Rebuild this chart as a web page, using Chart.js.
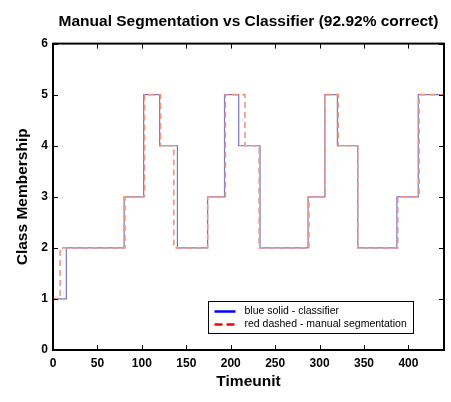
<!DOCTYPE html>
<html>
<head>
<meta charset="utf-8">
<script src="https://cdn.jsdelivr.net/npm/chart.js@4.4.1/dist/chart.umd.min.js"></script>
<style>
html,body{margin:0;padding:0;background:#fff;}
#seg_wrap{width:451px;height:402px;}
</style>
</head>
<body>
<div id="seg_wrap"><canvas id="seg_chart" width="451" height="402"></canvas></div>
<script>
// change points: the time where the class changes, and the class it changes to
var classifierTime  = [0, 15, 80, 102, 120, 140, 174, 193, 209, 233, 287, 306, 320, 343, 387, 411, 440];
var classifierClass = [1, 2, 3, 5, 4, 2, 3, 5, 4, 2, 3, 5, 4, 2, 3, 5, 5];
var manualTime  = [0, 8, 81, 103, 121, 136, 174, 194, 216, 232, 288, 306, 321, 343, 388, 412, 440];
var manualClass = [1, 2, 3, 5, 4, 2, 3, 5, 4, 2, 3, 5, 4, 2, 3, 5, 5];
var xTicks = [0, 50, 100, 150, 200, 250, 300, 350, 400];
var yTicks = [0, 1, 2, 3, 4, 5, 6];
var seriesLabels = ['blue solid - classifier', 'red dashed - manual segmentation'];

var fontFamily = '"Liberation Sans", Arial, Helvetica, sans-serif';

(function () {
    var SegChart = {
        toPoints(times, classes) {
            var pts = [];
            for (var i = 0; i < times.length; i++) {
                pts.push({x: times[i], y: classes[i]});
            }
            return pts;
        },
        // matplotlib style box with inward ticks on all four sides, plus the legend
        framePlugin: {
            id: 'seg_frame',
            afterDraw(chart) {
                var ctx = chart.ctx;
                var a = chart.chartArea;
                var xs = chart.scales.x, ys = chart.scales.y;
                var tl = 5;
                ctx.save();
                ctx.strokeStyle = '#000';
                ctx.lineWidth = 1;
                ctx.beginPath();
                xs.ticks.forEach(function (t) {
                    var px = Math.round(xs.getPixelForValue(t.value)) + 0.5;
                    ctx.moveTo(px, a.bottom); ctx.lineTo(px, a.bottom - tl);
                    ctx.moveTo(px, a.top); ctx.lineTo(px, a.top + tl);
                });
                ys.ticks.forEach(function (t) {
                    var py = Math.round(ys.getPixelForValue(t.value)) + 0.5;
                    ctx.moveTo(a.left, py); ctx.lineTo(a.left + tl, py);
                    ctx.moveTo(a.right, py); ctx.lineTo(a.right - tl, py);
                });
                ctx.stroke();
                ctx.lineWidth = 2;
                ctx.strokeRect(a.left, a.top, a.right - a.left, a.bottom - a.top);

                // legend box, lower right of the axes
                var bw = 205, bh = 32;
                var bx = Math.round(a.right - 31 - bw) + 0.5;
                var by = Math.round(a.bottom - 17 - bh) + 0.5;
                ctx.fillStyle = '#fff';
                ctx.fillRect(bx, by, bw, bh);
                ctx.lineWidth = 1;
                ctx.strokeRect(bx, by, bw, bh);
                var ds = chart.data.datasets;
                var order = [1, 0];
                ctx.font = '10.5px ' + fontFamily;
                ctx.textBaseline = 'middle';
                ctx.textAlign = 'left';
                for (var k = 0; k < order.length; k++) {
                    var d = ds[order[k]];
                    var ly = by + 10 + k * 13;
                    ctx.beginPath();
                    ctx.strokeStyle = d.legendColor;
                    ctx.lineWidth = 2.5;
                    ctx.setLineDash(d.borderDash && d.borderDash.length ? [8, 4] : []);
                    ctx.moveTo(bx + 6, ly);
                    ctx.lineTo(bx + 27, ly);
                    ctx.stroke();
                    ctx.setLineDash([]);
                    ctx.fillStyle = '#000';
                    ctx.fillText(d.label, bx + 36, ly);
                }
                ctx.restore();
            }
        },
        init() {
            var ctx = document.getElementById('seg_chart').getContext('2d');
            new Chart(ctx, {
                type: 'line',
                data: {
                    datasets: [{
                        label: seriesLabels[1],
                        data: SegChart.toPoints(manualTime, manualClass),
                        borderColor: '#f2957f',
                        legendColor: '#ff0000',
                        borderWidth: 1.6,
                        borderDash: [6, 4],
                        stepped: 'before',
                        pointRadius: 0,
                        fill: false,
                        order: 0
                    }, {
                        label: seriesLabels[0],
                        data: SegChart.toPoints(classifierTime, classifierClass),
                        borderColor: '#7676c6',
                        legendColor: '#0000ff',
                        borderWidth: 1.2,
                        stepped: 'before',
                        pointRadius: 0,
                        fill: false,
                        order: 1
                    }]
                },
                options: {
                    responsive: false,
                    animation: false,
                    events: [],
                    devicePixelRatio: 1,
                    layout: {padding: {left: 0, right: 7, top: 0, bottom: 0}},
                    plugins: {
                        legend: {display: false},
                        tooltip: {enabled: false},
                        title: {
                            display: true,
                            fullSize: false,
                            text: 'Manual Segmentation vs Classifier (92.92% correct)',
                            color: '#000',
                            font: {family: fontFamily, size: 15.5, weight: 'bold'},
                            padding: {top: 12, bottom: 13}
                        }
                    },
                    scales: {
                        x: {
                            type: 'linear',
                            min: 0,
                            max: 440,
                            grid: {display: false, drawTicks: false},
                            border: {display: false},
                            afterBuildTicks(scale) {
                                scale.ticks = xTicks.map(function (v) { return {value: v}; });
                            },
                            afterFit(scale) { scale.height = 52; },
                            ticks: {
                                color: '#000',
                                padding: 6,
                                maxRotation: 0,
                                font: {family: fontFamily, size: 12, weight: 'bold'}
                            },
                            title: {
                                display: true,
                                text: 'Timeunit',
                                color: '#000',
                                font: {family: fontFamily, size: 15.5, weight: 'bold'},
                                padding: {top: 0, bottom: 11}
                            }
                        },
                        y: {
                            min: 0,
                            max: 6,
                            grid: {display: false, drawTicks: false},
                            border: {display: false},
                            afterBuildTicks(scale) {
                                scale.ticks = yTicks.map(function (v) { return {value: v}; });
                            },
                            afterFit(scale) { scale.width = 53; },
                            ticks: {
                                color: '#000',
                                padding: 5,
                                font: {family: fontFamily, size: 12, weight: 'bold'}
                            },
                            title: {
                                display: true,
                                text: 'Class Membership',
                                color: '#000',
                                font: {family: fontFamily, size: 15.5, weight: 'bold'},
                                padding: {top: 13, bottom: 0}
                            }
                        }
                    }
                },
                plugins: [SegChart.framePlugin]
            });
        }
    };

    SegChart.init();
})();
</script>
</body>
</html>
